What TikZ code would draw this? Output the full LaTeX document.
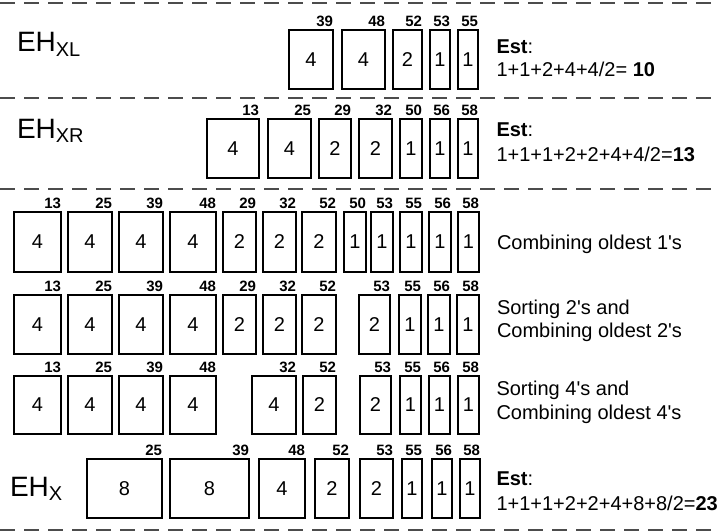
\documentclass[tikz,border=0pt]{standalone}
\usepackage{fontspec}
\newfontfamily\arial{Liberation Sans}
\tikzset{
  every node/.style={inner sep=0pt, outer sep=0pt},
  cell/.style={draw, line width=2.1pt, font=\arial\fontsize{20}{24}\selectfont},
  lab/.style={font=\arial\bfseries\fontsize{15}{18}\selectfont, anchor=base east},
  txt/.style={anchor=base west, font=\arial\fontsize{20}{24}\selectfont},
  eh/.style={anchor=base west, font=\arial\fontsize{28}{32}\selectfont},
  sep/.style={line width=2pt, dash pattern=on 15pt off 9pt, black!70}
}
\newcommand\rowboxes[4]{%
  \foreach \a/\b/\n/\l [count=\i] in {#4} {
    \pgfmathsetmacro\cx{(\a+\b)/2}
    \pgfmathsetmacro\w{\b-\a-2.1}
    \pgfmathsetmacro\h{#3-#2-2.1}
    \node[cell, minimum width=\w pt, minimum height=\h pt] (#1\i) at (\cx,{(#2+#3)/2}) {\n};
    \node[lab] (#1l\i) at ([yshift=3.5pt]#1\i.north east) {\l};
  }%
}
\newcommand\ehsub[1]{\raisebox{-4.5pt}{\fontsize{20}{24}\selectfont #1}}
\begin{document}
\begin{tikzpicture}[x=1pt,y=-1pt]
\fill[white] (0,0) rectangle (720,531);
\useasboundingbox (0,0) rectangle (720,531);
% separators
\draw[sep] (0,3) -- (720,3);
\draw[sep] (0,97.5) -- (720,97.5);
\draw[sep] (0,188.5) -- (720,188.5);
\draw[sep] (0,530) -- (720,530);
% row labels
\node[eh] (ehxl) at (17,51.7) {EH\ehsub{XL}};
\node[eh] (ehxr) at (17,138.3) {EH\ehsub{XR}};
\node[eh] (ehx) at (10,496) {EH\ehsub{X}};
% rows of boxes
\rowboxes{a-}{29}{90}{288/334/4/39, 341/386/4/48, 392/423/2/52, 429/451/1/53, 457/479/1/55}
\rowboxes{b-}{118}{179}{206/260/4/13, 267/312/4/25, 318/352/2/29, 358/393/2/32, 399/423/1/50, 429/451/1/56, 457/479/1/58}
\rowboxes{c-}{211}{273}{13/62/4/13, 67/113/4/25, 118/164/4/39, 169/217/4/48, 222/257/2/29, 262/297/2/32, 301/337/2/52, 343/367/1/50, 370/394/1/53, 399/423/1/55, 428/452/1/56, 457/480/1/58}
\rowboxes{d-}{294}{355}{13/62/4/13, 67/113/4/25, 118/164/4/39, 169/217/4/48, 222/257/2/29, 262/297/2/32, 301/337/2/52, 358/391/2/53, 398/422/1/55, 427/451/1/56, 456/480/1/58}
\rowboxes{e-}{375}{435}{13/62/4/13, 67/113/4/25, 118/164/4/39, 169/217/4/48, 251/297/4/32, 302/337/2/52, 359/392/2/53, 399/422/1/55, 428/451/1/56, 457/480/1/58}
\rowboxes{f-}{458}{519}{86/163/8/25, 169/250/8/39, 258/306/4/48, 314/350/2/52, 359/394/2/53, 401/423/1/55, 431/453/1/56, 459/481/1/58}
% texts
\node[txt] (t1a) at (496.5,53.3) {\textbf{Est}:};
\node[txt] (t1b) at (496.5,76.7) {1+1+2+4+4/2= \textbf{10}};
\node[txt] (t2a) at (496.5,136.7) {\textbf{Est}:};
\node[txt] (t2b) at (496.5,161) {1+1+1+2+2+4+4/2=\textbf{13}};
\node[txt] (t3) at (497,249) {Combining oldest 1's};
\node[txt] (t4a) at (497,314) {Sorting 2's and};
\node[txt] (t4b) at (497,337.5) {Combining oldest 2's};
\node[txt] (t5a) at (496.5,395.7) {Sorting 4's and};
\node[txt] (t5b) at (496.5,419) {Combining oldest 4's};
\node[txt] (t6a) at (496.5,485.7) {\textbf{Est}:};
\node[txt] (t6b) at (496.5,510.7) {1+1+1+2+2+4+8+8/2=\textbf{23}};
\end{tikzpicture}
\end{document}
